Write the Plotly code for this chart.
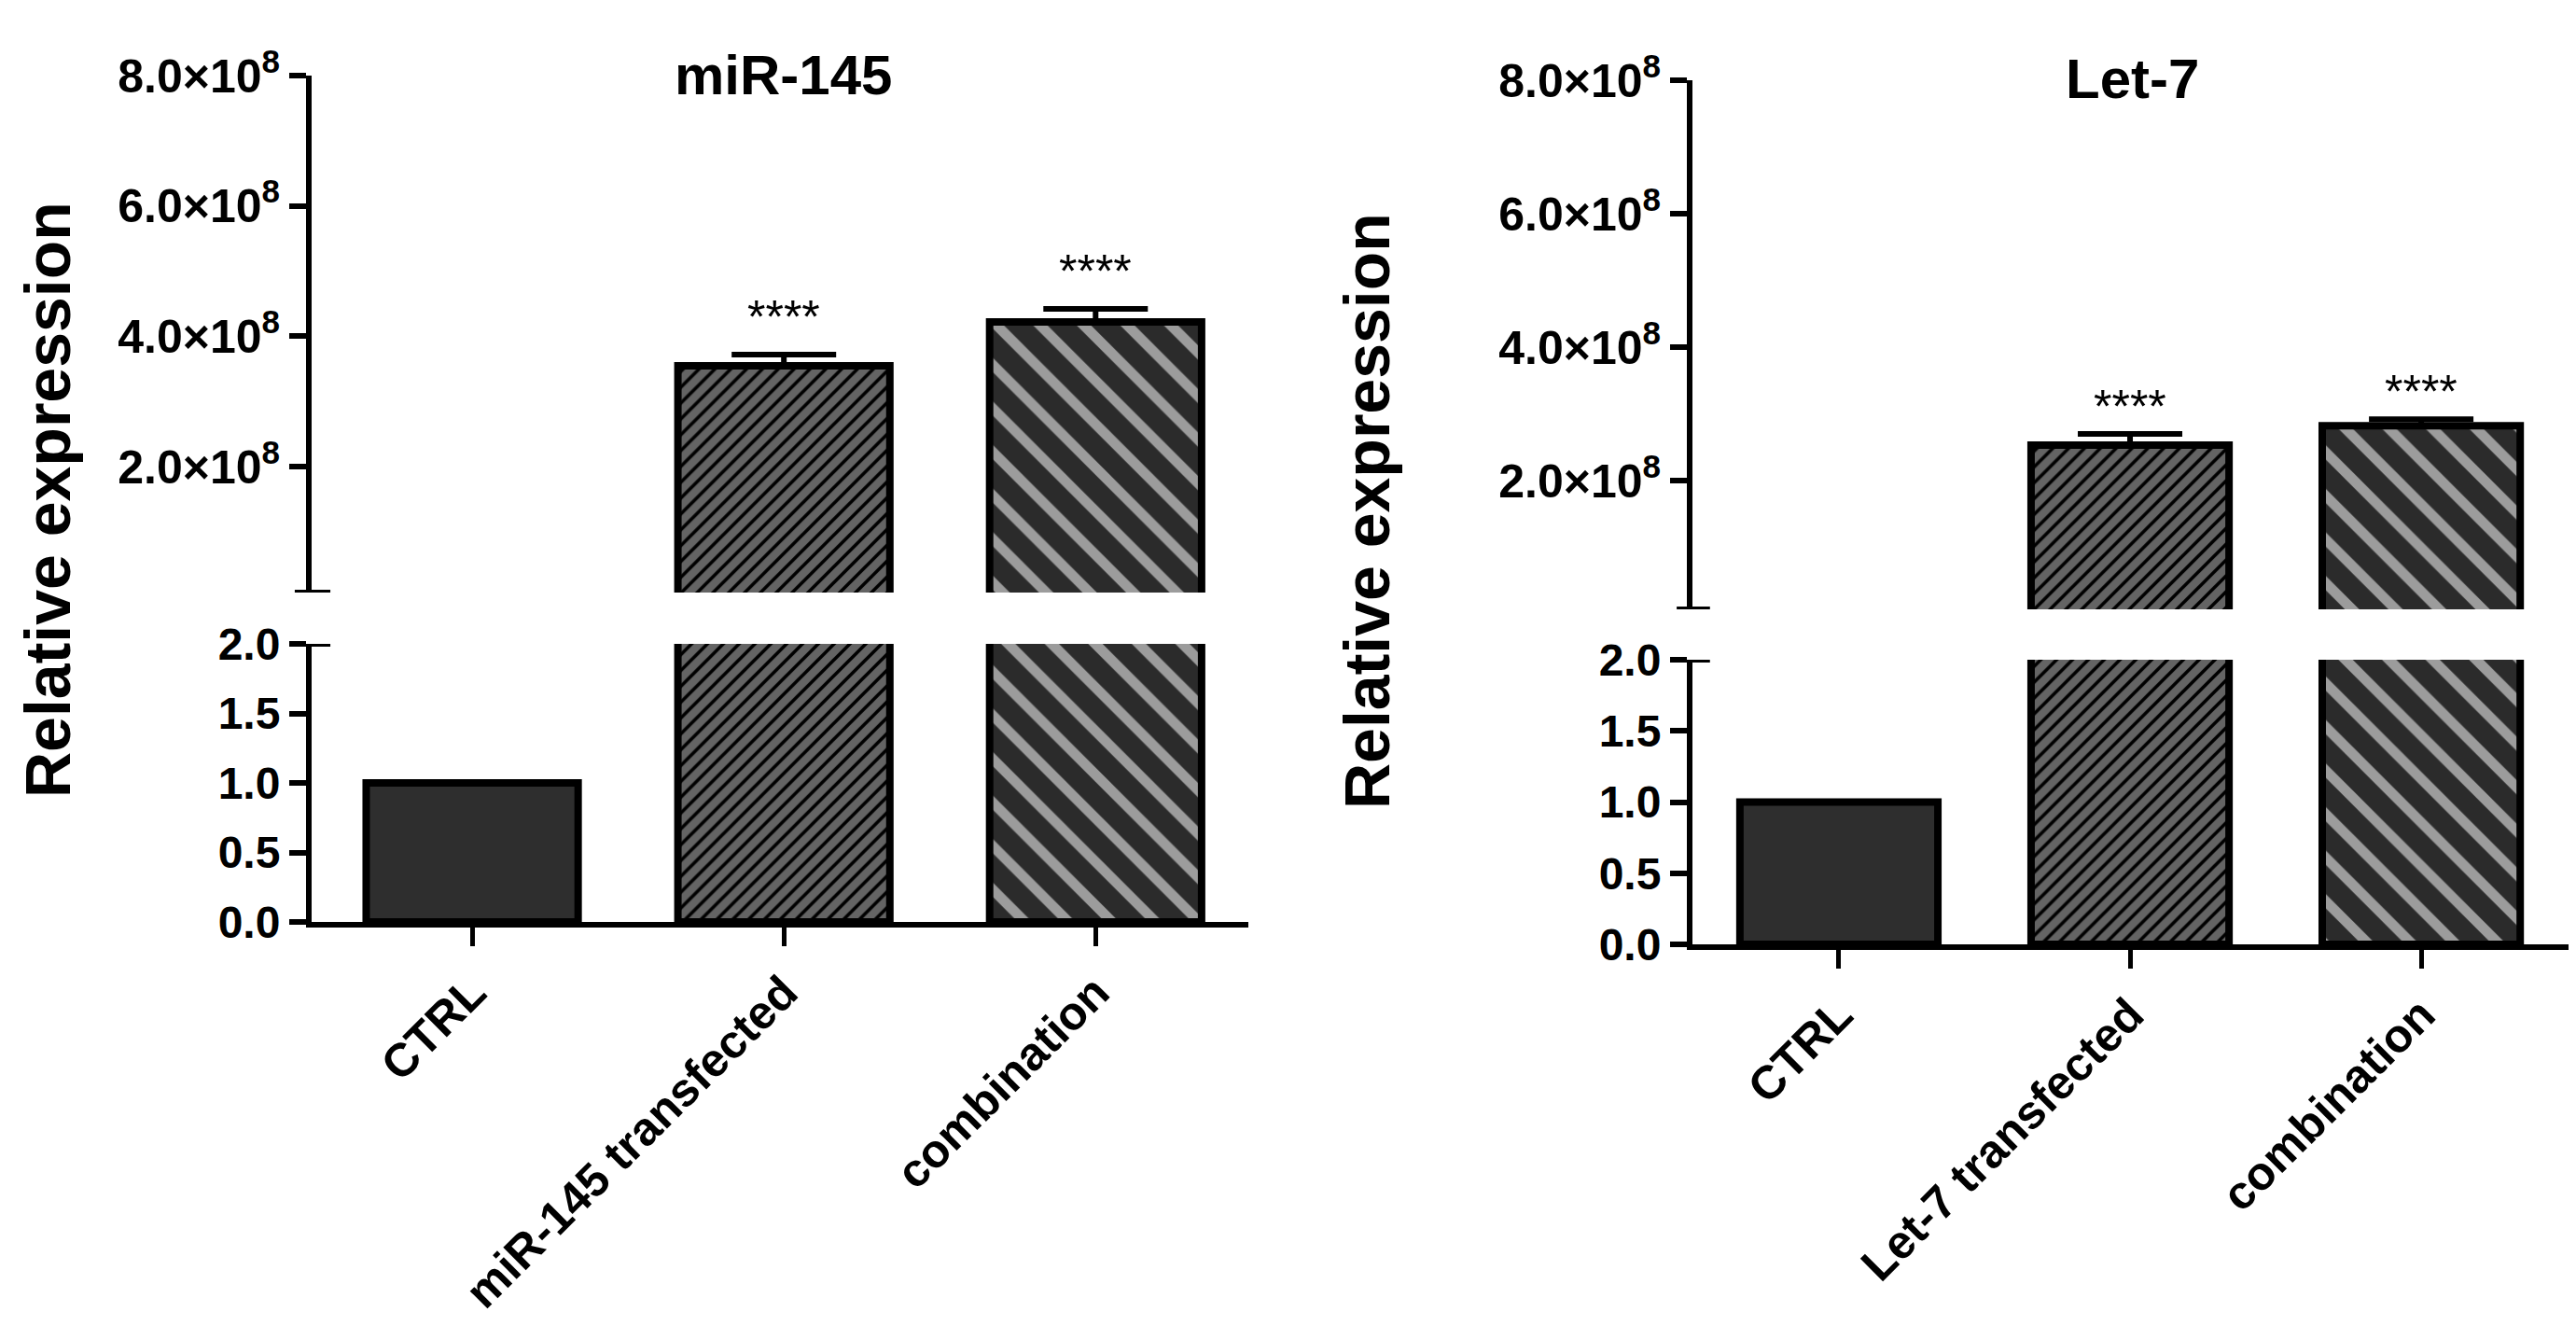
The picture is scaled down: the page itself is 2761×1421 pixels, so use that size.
import plotly.graph_objects as go

# ---------------- data ----------------
categories_mir = ["CTRL", "miR-145 transfected", "combination"]
values_mir = [1.0, 3.55e8, 4.22e8]
errors_mir = [0.0, 0.17e8, 0.20e8]

categories_let = ["CTRL", "Let-7 transfected", "combination"]
values_let = [1.0, 2.53e8, 2.82e8]
errors_let = [0.0, 0.17e8, 0.10e8]

significance = ["", "****", "****"]

panel_titles = ["miR-145", "Let-7"]
y_title = "Relative expression"

upper_tickvals = [2e8, 4e8, 6e8, 8e8]
upper_ticktext = ["2.0×10<sup>8</sup>", "4.0×10<sup>8</sup>",
                  "6.0×10<sup>8</sup>", "8.0×10<sup>8</sup>"]
lower_tickvals = [0, 0.5, 1.0, 1.5, 2.0]
lower_ticktext = ["0.0", "0.5", "1.0", "1.5", "2.0"]

# ---------------- styling ----------------
W, H = 2761, 1421
DY = -7  # small vertical correction (pixels)
FONT = "Arial, Liberation Sans, Helvetica, sans-serif"


def fx(px):
    return px / W


def fy(py):
    return 1 - (py + DY) / H


solid_fill = "#2e2e2e"
pattern_shapes = ["", "/", "\\"]
pattern_bg = ["#2e2e2e", "#646464", "#2b2b2b"]
pattern_fg = ["#2e2e2e", "#000000", "#9c9c9c"]
pattern_size = [10, 12, 33]
pattern_solidity = [0.3, 0.3, 0.33]

panels = [
    dict(cats=categories_mir, vals=values_mir, errs=errors_mir, title=panel_titles[0],
         xdom=(326, 1330), xrange=(-0.515, 2.49),
         lower=(987, 689), upper=(634, 80), upper_min=0.07e8,
         ytitle_pos=(43, 535), title_pos=(831, 80), star_shift=8),
    dict(cats=categories_let, vals=values_let, errs=errors_let, title=panel_titles[1],
         xdom=(1806, 2745), xrange=(-0.503, 2.506),
         lower=(1011, 706), upper=(652, 85), upper_min=0.07e8,
         ytitle_pos=(1457, 547), title_pos=(2277, 83), star_shift=-3),
]

fig = go.Figure()
annotations = []
shapes = []
layout = {}

for i, p in enumerate(panels):
    xn = "x" if i == 0 else "x2"
    ylow = "y" if i == 0 else "y3"
    yup = "y2" if i == 0 else "y4"
    xkey = "xaxis" if i == 0 else "xaxis2"
    ylowkey = "yaxis" if i == 0 else "yaxis3"
    yupkey = "yaxis2" if i == 0 else "yaxis4"

    marker = dict(
        color=solid_fill,
        line=dict(color="black", width=8),
        pattern=dict(shape=pattern_shapes, bgcolor=pattern_bg, fgcolor=pattern_fg,
                     size=pattern_size, solidity=pattern_solidity, fillmode="replace"),
    )
    # lower segment
    fig.add_trace(go.Bar(x=p["cats"], y=p["vals"], xaxis=xn, yaxis=ylow,
                         marker=marker, width=0.68, showlegend=False))
    # upper segment
    fig.add_trace(go.Bar(x=p["cats"], y=p["vals"], xaxis=xn, yaxis=yup,
                         marker=marker, width=0.68, showlegend=False,
                         error_y=dict(type="data", array=p["errs"],
                                      arrayminus=[0] * len(p["errs"]), symmetric=False,
                                      color="black", thickness=6, width=56)))

    layout[xkey] = dict(
        domain=[fx(p["xdom"][0]), fx(p["xdom"][1])], range=list(p["xrange"]),
        anchor=ylow, type="category", showline=True, linecolor="black", linewidth=6,
        ticks="outside", ticklen=20, tickwidth=5, tickcolor="black",
        tickangle=-45, tickfont=dict(family=FONT, size=50, color="black", weight="bold"),
        showgrid=False, zeroline=False, automargin=False, fixedrange=True,
    )
    layout[ylowkey] = dict(
        domain=[fy(p["lower"][0]), fy(p["lower"][1])], range=[0, 2],
        anchor=xn, showline=True, linecolor="black", linewidth=6,
        ticks="outside", ticklen=18, tickwidth=6, tickcolor="black",
        tickvals=lower_tickvals, ticktext=lower_ticktext,
        tickfont=dict(family=FONT, size=48, color="black", weight="bold"),
        showgrid=False, zeroline=False, automargin=False, fixedrange=True,
    )
    layout[yupkey] = dict(
        domain=[fy(p["upper"][0]), fy(p["upper"][1])], range=[p["upper_min"], 8e8],
        anchor=xn, showline=True, linecolor="black", linewidth=6,
        ticks="outside", ticklen=18, tickwidth=6, tickcolor="black",
        tickvals=upper_tickvals, ticktext=upper_ticktext,
        tickfont=dict(family=FONT, size=50, color="black", weight="bold"),
        showgrid=False, zeroline=False, automargin=False, fixedrange=True,
    )

    # break caps on the y axis
    for yref, yv in ((ylow, 2), (yup, p["upper_min"])):
        shapes.append(dict(type="line", xref=f"{xn} domain", yref=yref,
                           x0=-0.018, x1=0.02, y0=yv, y1=yv,
                           line=dict(color="black", width=6)))

    # significance stars
    for c, v, e, s in zip(p["cats"], p["vals"], p["errs"], significance):
        if s:
            annotations.append(dict(x=c, y=v + e, xref=xn, yref=yup, text=s,
                                    showarrow=False, yanchor="bottom",
                                    yshift=2 + p["star_shift"],
                                    font=dict(family=FONT, size=50, color="black")))

    # panel title
    annotations.append(dict(x=fx(p["title_pos"][0]), y=fy(p["title_pos"][1]),
                            xref="paper", yref="paper", text=p["title"], showarrow=False,
                            xanchor="center", yanchor="middle",
                            font=dict(family=FONT, size=60, color="black", weight="bold")))
    # y axis title
    annotations.append(dict(x=fx(p["ytitle_pos"][0]), y=fy(p["ytitle_pos"][1]),
                            xref="paper", yref="paper", text=y_title, showarrow=False,
                            textangle=-90, xanchor="center", yanchor="middle",
                            font=dict(family=FONT, size=68, color="black", weight="bold")))

fig.update_layout(
    width=W, height=H, margin=dict(l=0, r=0, t=0, b=0),
    paper_bgcolor="white", plot_bgcolor="white",
    barmode="group", bargap=0.3,
    annotations=annotations, shapes=shapes, showlegend=False,
    **layout,
)

fig.write_html("out.html")
